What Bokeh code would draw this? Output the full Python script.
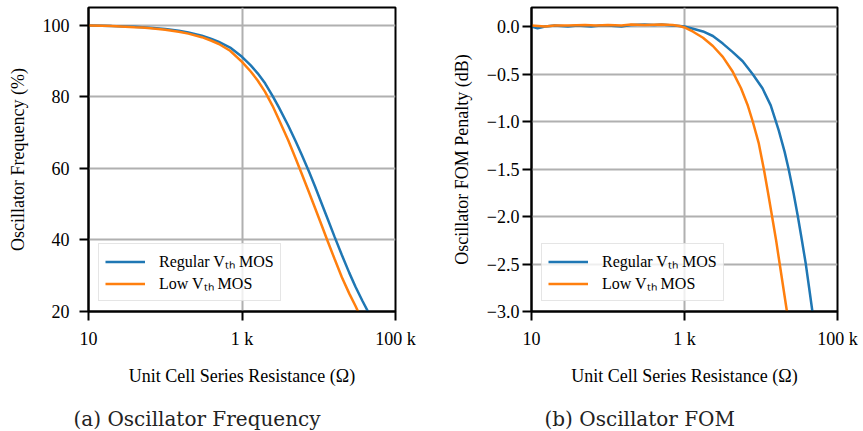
from bokeh.plotting import figure
from bokeh.models import FixedTicker, Title, Legend, LegendItem
from bokeh.layouts import row
from bokeh.embed import file_html
from bokeh.resources import INLINE

# ---------------- data ----------------
freq_r = [10, 15, 20, 30, 40, 50, 70, 100, 150, 200, 300, 400, 500, 700, 1000,
          1300, 1600, 2000, 2500, 3000, 4000, 5000, 6000, 7500, 9000, 11000,
          13000, 16000, 20000, 25000, 30000, 37000, 44000]
freq_regular = [100.0, 99.9, 99.8, 99.7, 99.6, 99.5, 99.3, 99.0, 98.5, 98.0,
                97.1, 96.2, 95.4, 93.8, 91.2, 88.8, 86.6, 83.8, 80.3, 77.2,
                72.0, 67.6, 63.8, 59.0, 54.8, 50.0, 46.0, 41.0, 35.8, 30.8,
                27.0, 23.0, 19.9]
freq_r_low = [10, 15, 20, 30, 40, 50, 70, 100, 150, 200, 300, 400, 500, 700,
              1000, 1300, 1600, 2000, 2500, 3000, 4000, 5000, 6000, 7500, 9000,
              11000, 13000, 16000, 20000, 25000, 30000, 33000]
freq_low = [100.0, 99.9, 99.8, 99.65, 99.5, 99.4, 99.1, 98.8, 98.2, 97.7,
            96.7, 95.7, 94.8, 92.9, 89.8, 87.1, 84.6, 81.4, 77.5, 73.8, 67.9,
            62.8, 58.5, 53.2, 48.8, 43.9, 39.8, 34.8, 29.6, 25.0, 21.6, 19.7]

fom_r_regular = [10, 12, 15, 20, 30, 40, 60, 80, 100, 150, 200, 300, 400, 500,
                 700, 861, 1000, 1295, 1745, 2350, 3170, 4275, 5760, 7760,
                 10450, 13400, 17020, 20370, 22960, 26660, 30330, 34150, 38480,
                 42560, 46990]
fom_regular = [0.00, -0.02, 0.00, 0.01, 0.00, 0.01, 0.00, 0.01, 0.01, 0.00,
               0.015, 0.02, 0.015, 0.02, 0.01, 0.005, 0.00, -0.024, -0.052,
               -0.10, -0.18, -0.27, -0.366, -0.50, -0.65, -0.83, -1.09, -1.32,
               -1.50, -1.756, -2.0, -2.244, -2.498, -2.75, -3.0]
fom_r_low = [10, 15, 20, 30, 50, 70, 100, 150, 200, 300, 500, 700, 861, 1000,
             1295, 1745, 2350, 3170, 4275, 5480, 6680, 7800, 9370, 10890,
             12390, 13960, 15710, 17540, 19580, 21830]
fom_low = [0.01, 0.00, 0.01, 0.01, 0.015, 0.01, 0.015, 0.01, 0.02, 0.015,
           0.02, 0.015, 0.005, -0.01, -0.055, -0.118, -0.205, -0.32, -0.477,
           -0.65, -0.826, -1.0, -1.233, -1.5, -1.756, -2.0, -2.244, -2.498,
           -2.75, -3.0]

x_ticks = [10, 1000, 100000]
x_tick_labels = ["10", "1 k", "100 k"]
freq_ticks = [20, 40, 60, 80, 100]
fom_ticks = [-3.0, -2.5, -2.0, -1.5, -1.0, -0.5, 0.0]
fom_tick_labels = ["\u22123.0", "\u22122.5", "\u22122.0", "\u22121.5",
                   "\u22121.0", "\u22120.5", "0.0"]

series_names = ["Regular V\u209c\u2095 MOS", "Low V\u209c\u2095 MOS"]
colors = ["#1f77b4", "#ff7f0e"]

SERIF = "Liberation Serif"
CAPTION_FONT = "DejaVu Serif"


def style(p, y_ticks, y_labels, y_label, caption, cap_offset, ylab_standoff):
    p.xaxis.ticker = FixedTicker(ticks=x_ticks)
    p.xaxis.major_label_overrides = dict(zip(x_ticks, x_tick_labels))
    p.yaxis.ticker = FixedTicker(ticks=y_ticks)
    p.yaxis.major_label_overrides = dict(zip(y_ticks, y_labels))
    for ax in (p.xaxis, p.yaxis):
        ax.axis_line_color = "black"
        ax.axis_line_width = 2
        ax.major_tick_line_color = "black"
        ax.major_tick_line_width = 2
        ax.major_tick_out = 9
        ax.major_tick_in = 0
        ax.minor_tick_line_color = None
        ax.major_label_text_font = SERIF
        ax.major_label_text_font_size = "18px"
        ax.major_label_text_color = "black"
        ax.axis_label_text_font = SERIF
        ax.axis_label_text_font_size = "18px"
        ax.axis_label_text_font_style = "normal"
        ax.axis_label_text_color = "black"
    p.xaxis.axis_label = "Unit Cell Series Resistance (\u03a9)"
    p.yaxis.axis_label = y_label
    p.xaxis.major_label_standoff = 8
    p.yaxis.major_label_standoff = ylab_standoff
    p.xaxis.axis_label_standoff = 14
    p.yaxis.axis_label_standoff = 12
    for g in (p.xgrid, p.ygrid):
        g.grid_line_color = "#b0b0b0"
        g.grid_line_width = 2
    p.outline_line_color = "black"
    p.outline_line_width = 2
    p.outline_line_alpha = 1
    p.background_fill_color = "white"
    p.border_fill_color = "white"
    # invisible spacer between the axis label and the caption
    spacer = Title(text=" ", standoff=13, text_font_size="1px")
    p.add_layout(spacer, "below")
    t = Title(text=caption, align="left", offset=cap_offset, standoff=1,
              vertical_align="bottom",
              text_font=CAPTION_FONT, text_font_size="20px",
              text_font_style="normal", text_color="#222222")
    p.add_layout(t, "below")


def make_legend(p, renderers):
    items = [LegendItem(label=n, renderers=[r]) for n, r in zip(series_names, renderers)]
    leg = Legend(items=items, location="bottom_left")
    leg.label_text_font = SERIF
    leg.label_text_font_size = "16px"
    leg.label_text_color = "black"
    leg.glyph_width = 40
    leg.glyph_height = 21
    leg.label_height = 21
    leg.label_standoff = 14
    leg.padding = 6
    leg.spacing = 0
    leg.margin = 10
    leg.border_line_color = "#cccccc"
    leg.border_line_width = 1.5
    leg.background_fill_alpha = 0.8
    p.add_layout(leg, "center")


# ---------------- left: oscillator frequency ----------------
p1 = figure(width=431, height=431, x_axis_type="log", x_range=(10, 100000),
            y_range=(20, 105), output_backend="svg", toolbar_location=None,
            min_border_left=88, min_border_right=36, min_border_top=7,
            min_border_bottom=120)
r1 = p1.line(freq_r, freq_regular, line_color=colors[0], line_width=2.5)
r2 = p1.line(freq_r_low, freq_low, line_color=colors[1], line_width=2.5)
style(p1, freq_ticks, [str(v) for v in freq_ticks], "Oscillator Frequency (%)",
      "(a) Oscillator Frequency", -15, 10)
make_legend(p1, [r1, r2])

# ---------------- right: oscillator FOM ----------------
p2 = figure(width=432, height=431, x_axis_type="log", x_range=(10, 100000),
            y_range=(-3.0, 0.2), output_backend="svg", toolbar_location=None,
            min_border_left=100, min_border_right=26, min_border_top=7,
            min_border_bottom=120)
s1 = p2.line(fom_r_regular, fom_regular, line_color=colors[0], line_width=2.5)
s2 = p2.line(fom_r_low, fom_low, line_color=colors[1], line_width=2.5)
style(p2, fom_ticks, fom_tick_labels, "Oscillator FOM Penalty (dB)",
      "(b) Oscillator FOM", 13, 3)
make_legend(p2, [s1, s2])

layout = row(p1, p2)
open("out.html", "w").write(file_html(layout, INLINE))
